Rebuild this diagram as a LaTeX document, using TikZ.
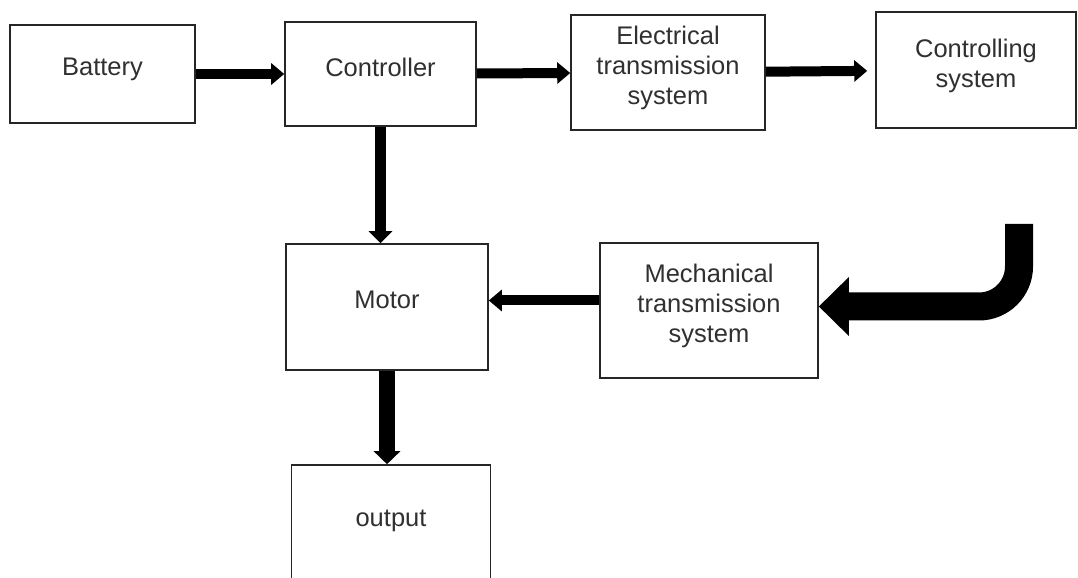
\documentclass[tikz,border=0pt]{standalone}
\usepackage{fontspec}
\setmainfont{Liberation Sans}
\usepackage{xcolor}
\usetikzlibrary{arrows.meta}
\definecolor{texto}{HTML}{303030}

\begin{document}
\begin{tikzpicture}[
			 bloque/.style={rectangle, draw=black!85, line width=0.9pt, align=center, text=texto, font=\fontsize{14.5}{17}\selectfont, inner sep=0pt, text depth=0.28cm},
			 flecha/.style={line width=0.2cm, -{Triangle[width=0.42cm,length=0.26cm]}}
  		]
	\useasboundingbox (0,0) rectangle (21.56,-11.56);
	\fill[white] (0,0) rectangle (21.56,-11.56);

	%Creamos los bloques
		\node[bloque, minimum width=3.7cm, minimum height=1.96cm] (bat) at (2.05,-1.48) {Battery};
		\node[bloque, minimum width=3.82cm, minimum height=2.08cm] (ctrl) at (7.61,-1.48) {Controller};
		\node[bloque, minimum width=3.88cm, minimum height=2.3cm] (elec) at (13.36,-1.45) {Electrical\\transmission\\system};
		\node[bloque, minimum width=4.0cm, minimum height=2.32cm] (cs) at (19.52,-1.40) {Controlling\\system};
		\node[bloque, minimum width=4.04cm, minimum height=2.52cm] (motor) at (7.74,-6.14) {Motor};
		\node[bloque, minimum width=4.36cm, minimum height=2.7cm] (mech) at (14.18,-6.21) {Mechanical\\transmission\\system};
		\node[bloque, minimum width=3.98cm, minimum height=2.4cm] (out) at (7.82,-10.5) {output};
	%Flechas de la fila de arriba
		\draw[flecha] (bat) -- (ctrl);
		\draw[flecha] (ctrl) -- (elec);
		\draw[flecha, shorten >=0.16cm] (elec) -- (cs);
	%Flechas hacia el motor y la salida
		\draw[flecha, line width=0.22cm, -{Triangle[width=0.46cm,length=0.24cm]}] (ctrl.south) -- (ctrl.south |- motor.north);
		\draw[flecha] ([yshift=0.2cm]mech.west) -- ([yshift=0.2cm]mech.west -| motor.east);
		\draw[flecha, line width=0.32cm, -{Triangle[width=0.52cm,length=0.26cm]}] (motor.south) -- (motor.south |- out.north);
	%Flecha curva grande
		\coordinate (giro) at (20.38,-4.48);
		\draw[line width=0.56cm, rounded corners=0.8cm, -{Triangle[width=1.14cm,length=0.6cm]}] (giro) |- ([yshift=0.08cm]mech.east);
	\end{tikzpicture}
\end{document}
